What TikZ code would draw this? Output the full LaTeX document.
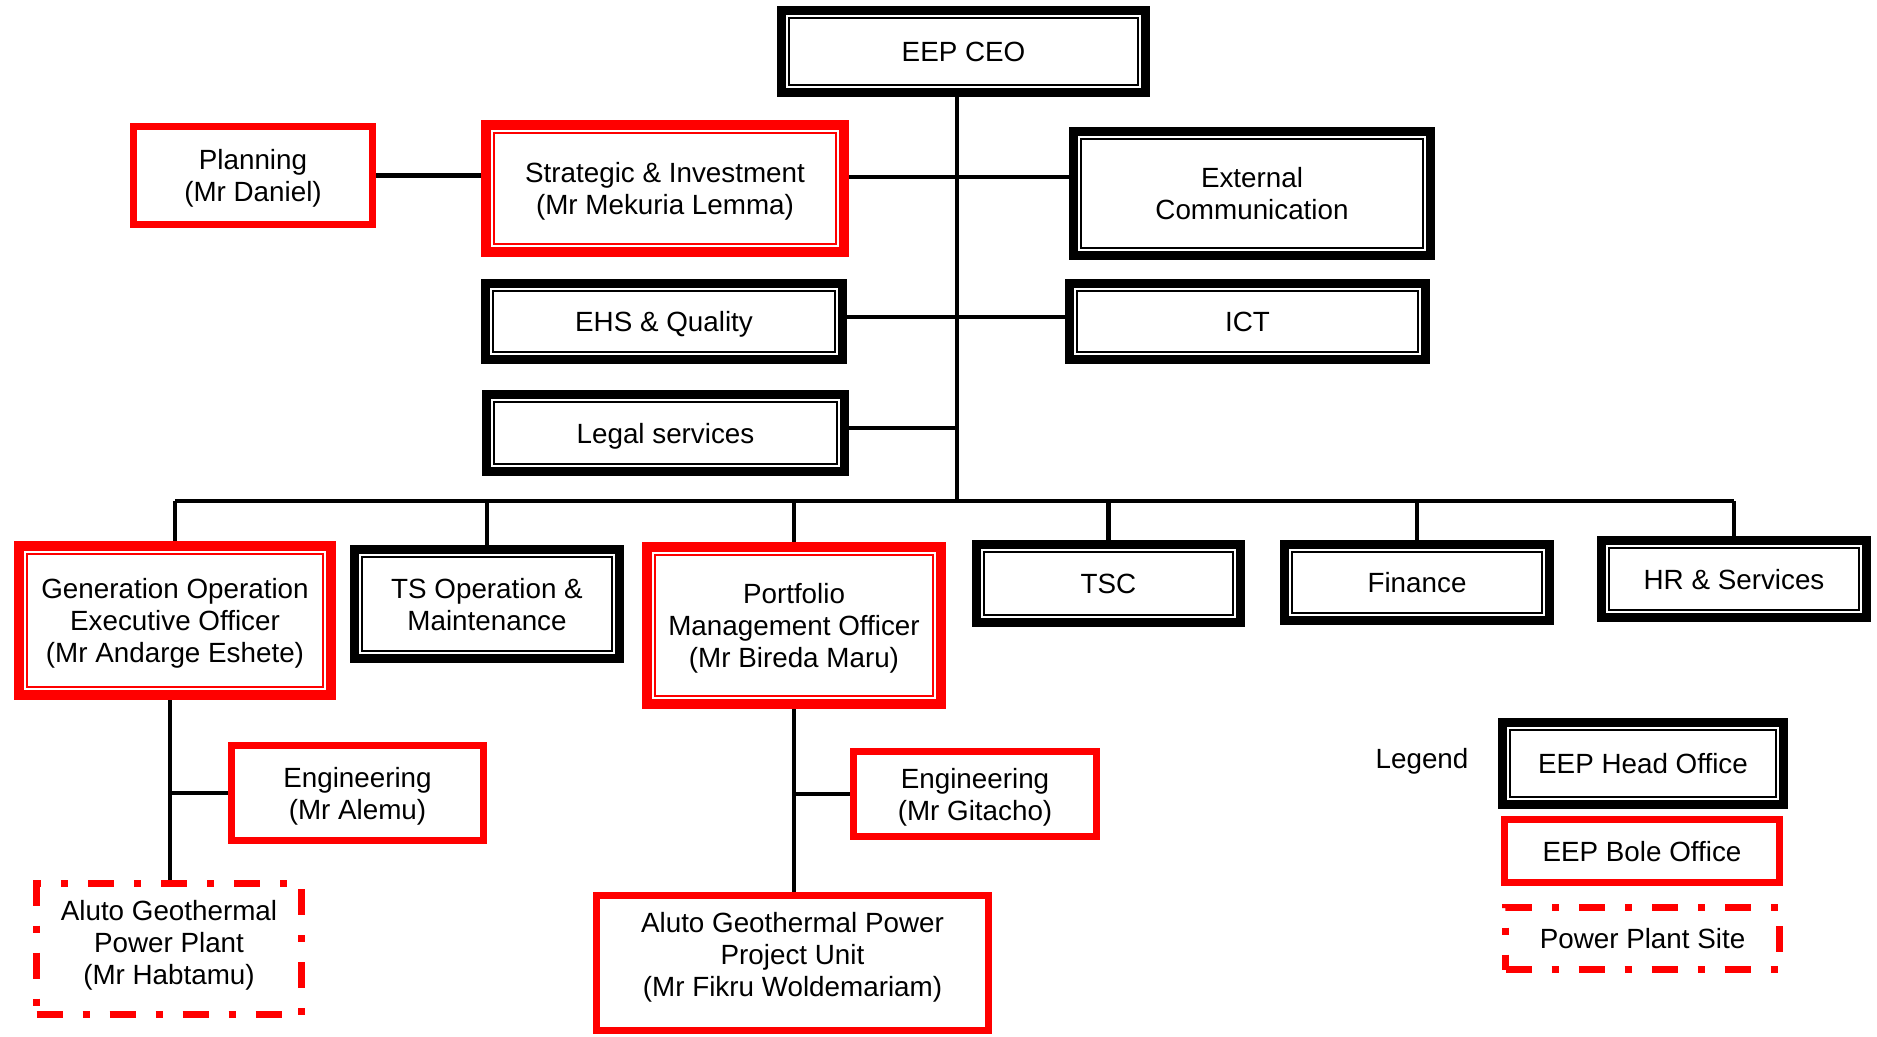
\documentclass[tikz,border=0pt]{standalone}
\usepackage{fontspec}
\setmainfont{Liberation Sans}
\usepackage{tikz}
\usetikzlibrary{calc,backgrounds}

\definecolor{eepred}{RGB}{255,0,0}

\tikzset{
  orgbox/.style={fill=white, align=center, inner sep=0pt, text depth=0pt},
  headbox/.style={orgbox, draw=black, line width=4.5pt,
    path picture={\draw[black, line width=1pt]
      ([shift={(3.75pt,3.75pt)}]path picture bounding box.south west) rectangle
      ([shift={(-3.75pt,-3.75pt)}]path picture bounding box.north east);}},
  boledouble/.style={orgbox, draw=eepred, line width=5pt,
    path picture={\draw[eepred, line width=0.8pt]
      ([shift={(3.9pt,3.9pt)}]path picture bounding box.south west) rectangle
      ([shift={(-3.9pt,-3.9pt)}]path picture bounding box.north east);}},
  bolebox/.style={orgbox, draw=eepred, line width=3.5pt},
  sitebox/.style={orgbox, draw=eepred, line width=3.5pt,
    dash pattern=on 13pt off 10pt on 3.5pt off 10pt},
  link/.style={draw=black, line width=2.2pt}
}

\begin{document}
\begin{tikzpicture}[x=0.5pt, y=-0.5pt, font=\fontsize{13.9}{16}\selectfont]
    \useasboundingbox (0,0) rectangle (1877,1037);

    % boxes
    \node[headbox, minimum width=182pt, minimum height=41pt] (ceo) at (963.5,51.5) {EEP CEO};
    \node[bolebox, minimum width=119.5pt, minimum height=49pt] (planning) at (253,175.5) {Planning\\(Mr Daniel)};
    \node[boledouble, minimum width=179pt, minimum height=63.5pt] (strategic) at (665,188.5) {Strategic \& Investment\\(Mr Mekuria Lemma)};
    \node[headbox, minimum width=178.5pt, minimum height=62pt] (extcomm) at (1252,193.5) {External\\Communication};
    \node[headbox, minimum width=178.5pt, minimum height=38pt] (ehs) at (664,321.5) {EHS \& Quality};
    \node[headbox, minimum width=178pt, minimum height=38pt] (ict) at (1247.5,321.5) {ICT};
    \node[headbox, minimum width=179pt, minimum height=38.5pt] (legal) at (665.5,433) {Legal services};

    \node[boledouble, minimum width=156pt, minimum height=74.5pt] (genop) at (175,620.5) {Generation Operation\\Executive Officer\\(Mr Andarge Eshete)};
    \node[headbox, minimum width=132.5pt, minimum height=54.5pt] (tsom) at (487,604) {TS Operation \&\\Maintenance};
    \node[boledouble, minimum width=147pt, minimum height=78.5pt] (portfolio) at (794,625.5) {Portfolio\\Management Officer\\(Mr Bireda Maru)};
    \node[headbox, minimum width=132pt, minimum height=39pt] (tsc) at (1108.5,583.5) {TSC};
    \node[headbox, minimum width=132.5pt, minimum height=38pt] (finance) at (1417,582.5) {Finance};
    \node[headbox, minimum width=132.5pt, minimum height=38.5pt] (hr) at (1734,579) {HR \& Services};

    \node[bolebox, minimum width=126pt, minimum height=47.5pt] (engA) at (357.5,793) {Engineering\\(Mr Alemu)};
    \node[bolebox, minimum width=121.5pt, minimum height=42.5pt] (engG) at (975,794) {Engineering\\(Mr Gitacho)};
    \node[sitebox, minimum width=132.5pt, minimum height=65.5pt] (alutopp) at (169,949) {Aluto Geothermal\\Power Plant\\(Mr Habtamu)\\[-9pt]};
    \node[bolebox, minimum width=196pt, minimum height=67.5pt] (alutopu) at (792.5,963) {Aluto Geothermal Power\\Project Unit\\(Mr Fikru Woldemariam)\\[-7pt]};

    % legend
    \node (legend) at (1422,761) {Legend};
    \node[headbox, minimum width=140.5pt, minimum height=41pt] (lghead) at (1643,763.5) {EEP Head Office};
    \node[bolebox, minimum width=137.5pt, minimum height=31.5pt] (lgbole) at (1642,851) {EEP Bole Office};
    \node[sitebox, minimum width=137pt, minimum height=31pt] (lgsite) at (1642.5,938.5) {Power Plant Site};

    % connectors
    \coordinate (trunk) at (957,501);
    \coordinate (bus) at (0,501);
    \coordinate (row1) at (0,177);
    \coordinate (row2) at (0,317);
    \coordinate (row3) at (0,428);
    \coordinate (gentap) at (170,0);
    \begin{scope}[on background layer]
        \draw[link] (ceo.south -| trunk) -- (trunk);
        \draw[link] (genop.north |- bus) -- (hr.north |- bus);
        \foreach \n in {genop,tsom,portfolio,tsc,finance,hr}
            \draw[link] (\n.north) -- (\n.north |- bus);
        \draw[link] (planning.east) -- (strategic.west |- planning.east);
        \draw[link] (strategic.east |- row1) -- (extcomm.west |- row1);
        \draw[link] (ehs.east |- row2) -- (ict.west |- row2);
        \draw[link] (legal.east |- row3) -- (trunk |- row3);
        \draw[link] (genop.south -| gentap) -- (alutopp.north -| gentap);
        \draw[link] (engA.west) -- (engA.west -| gentap);
        \draw[link] (portfolio.south) -- (portfolio.south |- alutopu.north);
        \draw[link] (engG.west) -- (engG.west -| portfolio.south);
    \end{scope}
\end{tikzpicture}
\end{document}
